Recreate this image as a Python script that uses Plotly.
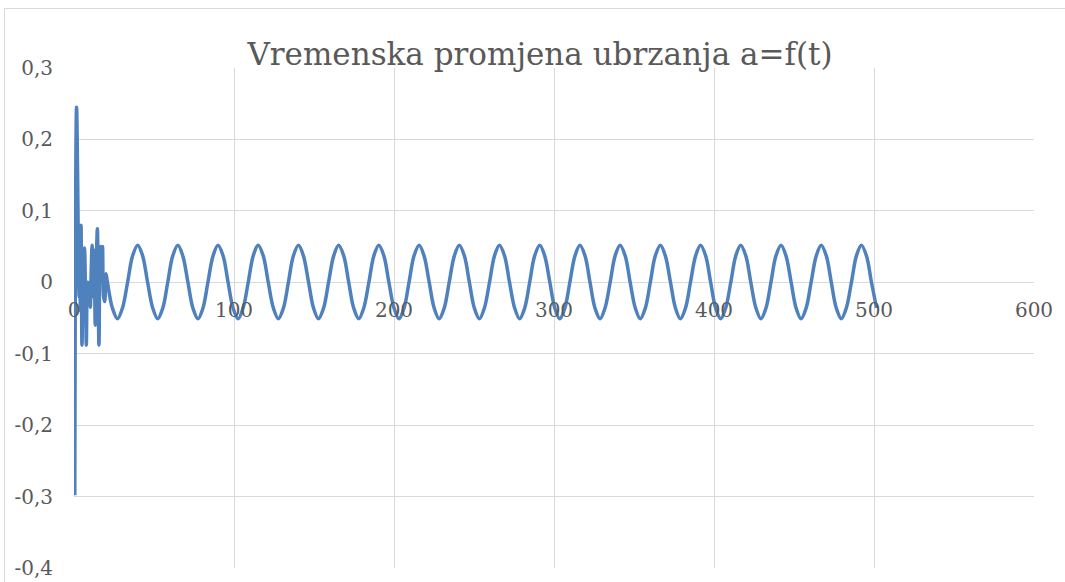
import plotly.graph_objects as go

# ---- data ----
# start-up transient (t, a)
t_transient = [0.5, 1.6, 3.2, 3.6, 4.0, 4.4, 5.0, 5.8, 6.5, 7.2, 7.7, 8.3, 9.0, 9.6,
               10.2, 10.8, 11.3, 12.0, 12.6, 13.3, 14.0, 14.6, 15.6, 16.4, 17.2,
               17.8, 18.5, 19.2, 20.0]
a_transient = [-0.298, 0.245, -0.02, 0.06, -0.04, 0.08, -0.088, 0.03, 0.048, -0.02,
               -0.088, 0.0, -0.03, 0.0, -0.035, 0.02, 0.052, -0.02, 0.045, -0.06,
               0.03, 0.075, -0.088, 0.05, 0.03, 0.05, -0.02, -0.027, 0.012]

# steady oscillation (t, a)
t_steady = [
    20.9, 24.0, 27.2, 30.3, 33.5, 36.6, 39.8, 42.9,
    46.0, 49.2, 52.3, 55.5, 58.6, 61.7, 64.9, 68.0,
    71.2, 74.3, 77.5, 80.6, 83.7, 86.9, 90.0, 93.2,
    96.3, 99.4, 102.6, 105.7, 108.9, 112.0, 115.1, 118.3,
    121.4, 124.6, 127.7, 130.9, 134.0, 137.1, 140.3, 143.4,
    146.6, 149.7, 152.8, 156.0, 159.1, 162.3, 165.4, 168.6,
    171.7, 174.8, 178.0, 181.1, 184.3, 187.4, 190.5, 193.7,
    196.8, 200.0, 203.1, 206.3, 209.4, 212.5, 215.7, 218.8,
    222.0, 225.1, 228.2, 231.4, 234.5, 237.7, 240.8, 244.0,
    247.1, 250.2, 253.4, 256.5, 259.7, 262.8, 265.9, 269.1,
    272.2, 275.4, 278.5, 281.7, 284.8, 287.9, 291.1, 294.2,
    297.4, 300.5, 303.6, 306.8, 309.9, 313.1, 316.2, 319.4,
    322.5, 325.6, 328.8, 331.9, 335.1, 338.2, 341.3, 344.5,
    347.6, 350.8, 353.9, 357.1, 360.2, 363.3, 366.5, 369.6,
    372.8, 375.9, 379.0, 382.2, 385.3, 388.5, 391.6, 394.8,
    397.9, 401.0, 404.2, 407.3, 410.5, 413.6, 416.7, 419.9,
    423.0, 426.2, 429.3, 432.5, 435.6, 438.7, 441.9, 445.0,
    448.2, 451.3, 454.4, 457.6, 460.7, 463.9, 467.0, 470.2,
    473.3, 476.4, 479.6, 482.7, 485.9, 489.0, 492.1, 495.3,
    498.4, 501.6,
]
a_steady = [
    0.0, -0.036, -0.051, -0.036, 0.0, 0.037, 0.052, 0.037,
    0.0, -0.036, -0.051, -0.036, 0.0, 0.037, 0.052, 0.037,
    0.0, -0.036, -0.051, -0.036, 0.0, 0.037, 0.052, 0.037,
    0.0, -0.036, -0.051, -0.036, 0.0, 0.037, 0.052, 0.037,
    0.0, -0.036, -0.051, -0.036, 0.0, 0.037, 0.052, 0.037,
    0.0, -0.036, -0.051, -0.036, 0.0, 0.037, 0.052, 0.037,
    0.0, -0.036, -0.051, -0.036, 0.0, 0.037, 0.052, 0.037,
    0.0, -0.036, -0.051, -0.036, 0.0, 0.037, 0.052, 0.037,
    0.0, -0.036, -0.051, -0.036, 0.0, 0.037, 0.052, 0.037,
    0.0, -0.036, -0.051, -0.036, 0.0, 0.037, 0.052, 0.037,
    0.0, -0.036, -0.051, -0.036, 0.0, 0.037, 0.052, 0.037,
    0.0, -0.036, -0.051, -0.036, 0.0, 0.037, 0.052, 0.037,
    0.0, -0.036, -0.051, -0.036, 0.0, 0.037, 0.052, 0.037,
    0.0, -0.036, -0.051, -0.036, 0.0, 0.037, 0.052, 0.037,
    0.0, -0.036, -0.051, -0.036, 0.0, 0.037, 0.052, 0.037,
    0.0, -0.036, -0.051, -0.036, 0.0, 0.037, 0.052, 0.037,
    0.0, -0.036, -0.051, -0.036, 0.0, 0.037, 0.052, 0.037,
    0.0, -0.036, -0.051, -0.036, 0.0, 0.037, 0.052, 0.037,
    0.0, -0.036, -0.051, -0.036, 0.0, 0.037, 0.052, 0.037,
    0.0, -0.036,
]

x_ticks = [0, 100, 200, 300, 400, 500, 600]
x_ticklabels = ["0", "100", "200", "300", "400", "500", "600"]
y_ticks = [-0.4, -0.3, -0.2, -0.1, 0, 0.1, 0.2, 0.3]
y_ticklabels = ["-0,4", "-0,3", "-0,2", "-0,1", "0", "0,1", "0,2", "0,3"]
title_text = "Vremenska promjena ubrzanja a=f(t)"

FONT = "DejaVu Serif"
TXT = "#595959"
GRID = "#d9d9d9"

fig = go.Figure()
fig.add_trace(go.Scatter(
    x=t_transient + t_steady,
    y=a_transient + a_steady,
    mode="lines",
    line=dict(color="#4f81bd", width=3.5, shape="spline", smoothing=1),
    showlegend=False,
    hoverinfo="skip",
))

fig.update_layout(
    width=1065, height=582,
    margin=dict(l=74, r=31, t=68, b=14, autoexpand=False),
    paper_bgcolor="white", plot_bgcolor="white",
    font=dict(family=FONT, color=TXT, size=20),
    title=dict(text=title_text, x=540 / 1065, xref="container", xanchor="center",
               y=1 - 54 / 582, yref="container", yanchor="middle",
               font=dict(family=FONT, size=31, color=TXT)),
    xaxis=dict(range=[0, 600], tickvals=x_ticks, ticktext=x_ticklabels,
               showgrid=True, gridcolor=GRID, gridwidth=1.3, zeroline=False,
               showline=False, ticks="", anchor="free", position=0.545,
               automargin=False,
               tickfont=dict(family=FONT, size=20, color=TXT)),
    yaxis=dict(range=[-0.4, 0.3], tickvals=y_ticks, ticktext=y_ticklabels,
               showgrid=True, gridcolor=GRID, gridwidth=1.3, zeroline=False,
               showline=False, ticks="", ticklabelstandoff=20, automargin=False,
               tickfont=dict(family=FONT, size=20, color=TXT)),
    shapes=[dict(type="rect", xref="paper", yref="paper",
                 x0=(4.5 - 74) / 960, x1=(1080 - 74) / 960,
                 y0=(568 - 600) / 500, y1=(568 - 8.5) / 500,
                 line=dict(color=GRID, width=1), fillcolor="rgba(0,0,0,0)",
                 layer="below")],
)

fig.write_html("out.html",
               config={"displayModeBar": False},
               post_script="document.body.style.margin='0px';document.body.style.overflow='hidden';")
